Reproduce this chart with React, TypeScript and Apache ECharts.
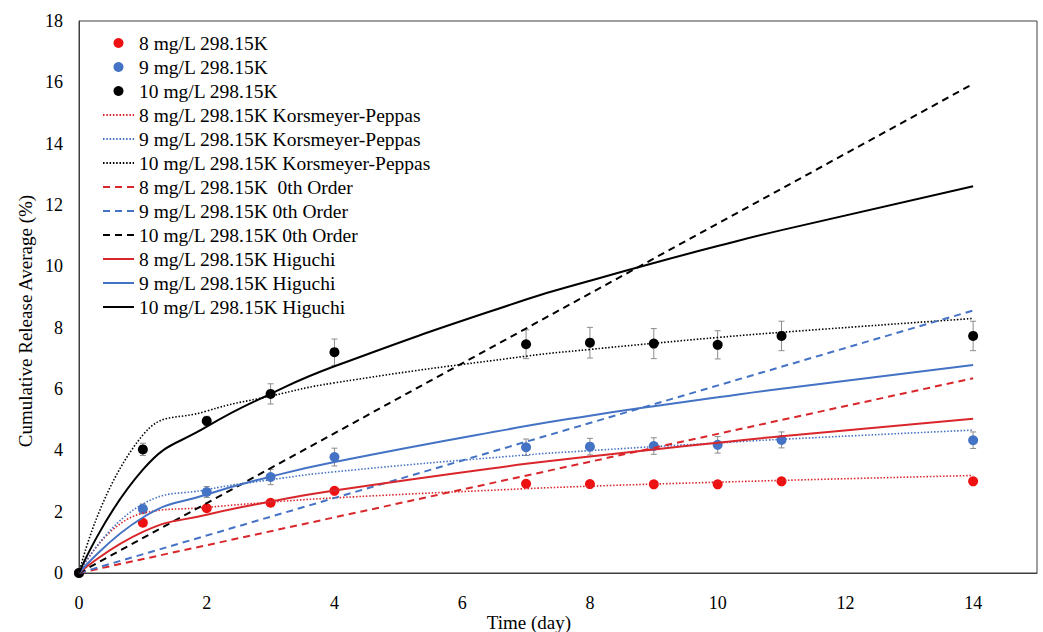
import React, { useEffect, useRef } from "react";
import * as echarts from "echarts";

const FONT = "'Liberation Serif', 'Times New Roman', serif";

const days = [0, 1, 2, 3, 4, 7, 8, 9, 10, 11, 14];
const zeroDays = [0, 14];

const names = [
  "8 mg/L 298.15K",
  "9 mg/L 298.15K",
  "10 mg/L 298.15K",
  "8 mg/L 298.15K Korsmeyer-Peppas",
  "9 mg/L 298.15K Korsmeyer-Peppas",
  "10 mg/L 298.15K Korsmeyer-Peppas",
  "8 mg/L 298.15K  0th Order",
  "9 mg/L 298.15K 0th Order",
  "10 mg/L 298.15K 0th Order",
  "8 mg/L 298.15K Higuchi",
  "9 mg/L 298.15K Higuchi",
  "10 mg/L 298.15K Higuchi",
];

// measured points
const red8 = [0, 1.64, 2.11, 2.29, 2.68, 2.91, 2.9, 2.89, 2.89, 2.99, 2.99];
const red8Err = [0, 0.08, 0.08, 0.06, 0.06, 0.05, 0.05, 0.05, 0.05, 0.06, 0.05];
const blue9 = [0, 2.09, 2.64, 3.13, 3.78, 4.1, 4.12, 4.14, 4.18, 4.34, 4.33];
const blue9Err = [0, 0.16, 0.18, 0.25, 0.29, 0.27, 0.27, 0.27, 0.27, 0.26, 0.27];
const black10 = [0, 4.03, 4.96, 5.84, 7.2, 7.46, 7.51, 7.48, 7.44, 7.73, 7.73];
const black10Err = [0, 0.2, 0.15, 0.33, 0.43, 0.47, 0.5, 0.49, 0.46, 0.48, 0.48];

// Korsmeyer-Peppas fits
const kpRed = [0, 1.95, 2.14, 2.31, 2.45, 2.75, 2.83, 2.9, 2.96, 3.02, 3.18];
const kpBlue = [0, 2.25, 2.72, 3.04, 3.3, 3.85, 3.99, 4.12, 4.24, 4.36, 4.66];
const kpBlack = [0, 4.5, 5.28, 5.77, 6.2, 7.07, 7.29, 7.49, 7.68, 7.85, 8.3];

// 0th order fits
const zeroRed = [0, 6.35];
const zeroBlue = [0, 8.56];
const zeroBlack = [0, 15.95];

// Higuchi fits
const higRed = [0, 1.34, 1.9, 2.33, 2.69, 3.56, 3.8, 4.03, 4.25, 4.46, 5.03];
const higBlue = [0, 1.81, 2.56, 3.14, 3.62, 4.79, 5.13, 5.44, 5.73, 6.01, 6.78];
const higBlack = [0, 3.37, 4.77, 5.84, 6.74, 8.92, 9.53, 10.11, 10.66, 11.18, 12.61];

const RED_PT = "#EE1111";
const RED_LN = "#D9262B";
const BLUE = "#4472C4";
const BLACK = "#000000";

const pairs = (xs: number[], ys: number[]) => xs.map((x, i) => [x, ys[i]]);
const triples = (xs: number[], ys: number[], es: number[]) =>
  xs.map((x, i) => [x, ys[i], es[i]]);

function errorSeries(data: number[][]) {
  return {
    type: "custom",
    silent: true,
    z: 2,
    data,
    encode: { x: 0, y: 1 },
    renderItem: (params: any, api: any) => {
      const x = api.value(0);
      const y = api.value(1);
      const e = api.value(2);
      if (!e) return null;
      const top = api.coord([x, y + e]);
      const bot = api.coord([x, y - e]);
      const style = { stroke: "#8C8C8C", lineWidth: 1 };
      const cap = 3;
      return {
        type: "group",
        children: [
          { type: "line", shape: { x1: top[0], y1: top[1], x2: bot[0], y2: bot[1] }, style },
          { type: "line", shape: { x1: top[0] - cap, y1: top[1], x2: top[0] + cap, y2: top[1] }, style },
          { type: "line", shape: { x1: bot[0] - cap, y1: bot[1], x2: bot[0] + cap, y2: bot[1] }, style },
        ],
      };
    },
  };
}

function scatter(name: string, color: string, ys: number[]) {
  return {
    name,
    type: "scatter",
    z: 3,
    symbol: "circle",
    symbolSize: 10,
    itemStyle: { color, opacity: 1 },
    data: pairs(days, ys),
  };
}

function line(name: string, color: string, xs: number[], ys: number[], kind: "dot" | "dash" | "solid") {
  const type = kind === "dot" ? [1.5, 1.8] : kind === "dash" ? [7, 5] : "solid";
  const width = kind === "dot" ? 1.6 : 2;
  return {
    name,
    type: "line",
    z: 4,
    symbol: "none",
    smooth: kind === "dash" ? false : 0.5,
    lineStyle: { color, width, type },
    itemStyle: { color },
    data: pairs(xs, ys),
  };
}

export default function App() {
  const ref = useRef<HTMLDivElement>(null);
  useEffect(() => {
    if (!ref.current) return;
    const chart = echarts.init(ref.current, undefined, { renderer: "svg" });
    const axisLabel = { fontSize: 18, color: "#000", fontFamily: FONT };
    chart.setOption({
      animation: false,
      textStyle: { fontFamily: FONT },
      grid: {
        left: 79,
        right: 6,
        top: 21,
        bottom: 59,
        show: true,
        borderColor: "#404040",
        borderWidth: 1,
      },
      xAxis: {
        type: "value",
        min: 0,
        max: 15,
        interval: 2,
        axisLine: { show: true, onZero: false, lineStyle: { color: "#404040" } },
        axisTick: { show: false },
        splitLine: { show: false },
        axisLabel: { ...axisLabel, margin: 21, showMaxLabel: false },
      },
      yAxis: {
        type: "value",
        min: 0,
        max: 18,
        interval: 2,
        axisLine: { show: true, onZero: false, lineStyle: { color: "#404040" } },
        axisTick: { show: false },
        splitLine: { show: false },
        axisLabel: { ...axisLabel, margin: 16 },
      },
      legend: {
        orient: "vertical",
        left: 102,
        top: 33,
        padding: 0,
        itemWidth: 31,
        itemHeight: 10,
        itemGap: 4,
        textStyle: { fontSize: 19.5, lineHeight: 20, color: "#000", fontFamily: FONT },
        data: names.map((n, i) =>
          i < 3
            ? { name: n, icon: "circle", itemStyle: { opacity: 1 } }
            : { name: n, itemStyle: { opacity: 0 } }
        ),
      },
      graphic: [
        {
          type: "text",
          x: 25,
          y: 321,
          rotation: Math.PI / 2,
          style: {
            text: "Cumulative Release Average (%)",
            fontSize: 19,
            fontFamily: FONT,
            fill: "#000",
            textAlign: "center",
            textVerticalAlign: "middle",
          },
        },
        {
          type: "text",
          x: 529,
          y: 622,
          style: {
            text: "Time (day)",
            fontSize: 19,
            fontFamily: FONT,
            fill: "#000",
            textAlign: "center",
            textVerticalAlign: "middle",
          },
        },
      ],
      series: [
        errorSeries(triples(days, red8, red8Err)),
        errorSeries(triples(days, blue9, blue9Err)),
        errorSeries(triples(days, black10, black10Err)),
        scatter(names[0], RED_PT, red8),
        scatter(names[1], BLUE, blue9),
        scatter(names[2], BLACK, black10),
        line(names[3], RED_LN, days, kpRed, "dot"),
        line(names[4], BLUE, days, kpBlue, "dot"),
        line(names[5], BLACK, days, kpBlack, "dot"),
        line(names[6], RED_LN, zeroDays, zeroRed, "dash"),
        line(names[7], BLUE, zeroDays, zeroBlue, "dash"),
        line(names[8], BLACK, zeroDays, zeroBlack, "dash"),
        line(names[9], RED_LN, days, higRed, "solid"),
        line(names[10], BLUE, days, higBlue, "solid"),
        line(names[11], BLACK, days, higBlack, "solid"),
      ],
    });
    return () => chart.dispose();
  }, []);
  return (
    <div
      ref={ref}
      style={{ position: "fixed", left: 0, top: 0, width: 1043, height: 632, background: "#fff" }}
    />
  );
}
